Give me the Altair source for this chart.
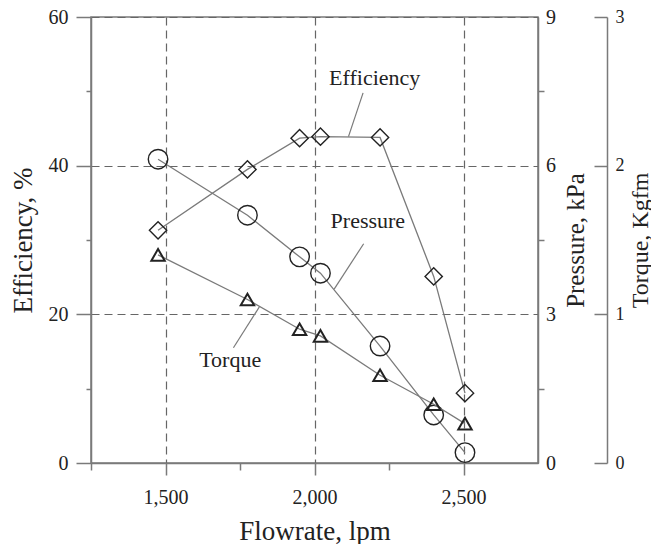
import altair as alt
import pandas as pd

# Measured operating points
flowrate = [1475, 1775, 1950, 2020, 2220, 2400, 2505]          # lpm
efficiency = [31.3, 39.5, 43.7, 43.9, 43.8, 25.1, 9.4]         # %
pressure = [6.13, 5.00, 4.16, 3.83, 2.36, 0.97, 0.21]          # kPa
torque = [1.40, 1.10, 0.90, 0.855, 0.59, 0.395, 0.265]         # Kgfm

# Tick values (unlabelled minor ticks in between)
x_ticks = [1250, 1500, 1750, 2000, 2250, 2500]
eff_ticks = [0, 10, 20, 30, 40, 50, 60]
pres_ticks = [0, 1.5, 3, 4.5, 6, 7.5, 9]
torq_ticks = [0, 0.5, 1, 1.5, 2, 2.5, 3]

# Series name labels with leader lines (flowrate / efficiency units)
label_text = ["Efficiency", "Pressure", "Torque"]
label_x = [2202, 2179, 1717]
label_y = [51.8, 32.5, 13.9]
leader_x0 = [2163, 2165, 1728]
leader_y0 = [49.8, 29.5, 15.5]
leader_x1 = [2114, 2066, 1815]
leader_y1 = [43.9, 23.4, 21.0]

FONT = "Liberation Serif, serif"
LINE = "#7a7a7a"
INK = "#222222"
GRID = "#666666"

# Shared axis styling
AX = dict(labelFont=FONT, titleFont=FONT, labelColor=INK, titleColor=INK,
          titleFontWeight="normal", domainColor=LINE, domainWidth=1.5,
          tickColor=LINE, tickWidth=1.5)

df = pd.DataFrame({"flow": flowrate, "eff": efficiency, "pres": pressure, "torq": torque})
ann = pd.DataFrame({"text": label_text, "lx": label_x, "ly": label_y,
                    "x0": leader_x0, "y0": leader_y0, "x1": leader_x1, "y1": leader_y1})

x_scale = alt.Scale(domain=[1250, 2750], nice=False, zero=False)
x_axis = alt.Axis(
    orient="bottom", values=x_ticks, format=",d",
    labelExpr="datum.value % 500 === 0 ? datum.label : ''",
    tickSize={"condition": {"test": "datum.value % 500 === 0", "value": 12}, "value": 7},
    labelBaseline="alphabetic", labelPadding=28, labelFontSize=20,
    grid=True, gridDash=[8, 5], gridColor=GRID, gridWidth=1.2,
    gridOpacity={"condition": {"test": "datum.value % 500 === 0", "value": 1}, "value": 0},
    title="Flowrate, lpm", titleFontSize=27, titleBaseline="alphabetic", titleY=76,
    **AX,
)

eff_scale = alt.Scale(domain=[0, 60], nice=False, zero=True)
eff_axis = alt.Axis(
    orient="left", values=eff_ticks,
    labelExpr="datum.value % 20 === 0 ? datum.label : ''",
    tickSize={"condition": {"test": "datum.value % 20 === 0", "value": 15}, "value": 5},
    labelPadding=8, labelFontSize=20,
    grid=True, gridDash=[8, 5], gridColor=GRID, gridWidth=1.2,
    gridOpacity={"condition": {"test": "datum.value % 20 === 0", "value": 1}, "value": 0},
    title="Efficiency, %", titleFontSize=27, titleAngle=270, titleBaseline="alphabetic",
    titleX=-60, titleY=223,
    **AX,
)

pres_scale = alt.Scale(domain=[0, 9], nice=False, zero=True)
pres_axis = alt.Axis(
    orient="right", values=pres_ticks, grid=False, format="d",
    labelExpr="datum.value % 3 === 0 ? datum.label : ''",
    tickSize={"condition": {"test": "datum.value % 3 === 0", "value": 0}, "value": 6},
    labelPadding=7.5, labelFontSize=20,
    title="Pressure, kPa", titleFontSize=25, titleAngle=270, titleBaseline="alphabetic",
    titleX=45.5, titleY=223,
    **AX,
)

torq_scale = alt.Scale(domain=[0, 3], nice=False, zero=True)
torq_axis = alt.Axis(
    orient="left", offset=-516, values=torq_ticks, grid=False, format="d",
    labelExpr="datum.value % 1 === 0 ? datum.label : ''",
    tickSize=13, labelAlign="left", labelPadding=-21, labelFontSize=18,
    title="Torque, Kgfm", titleFontSize=24, titleAngle=270, titleBaseline="alphabetic",
    titleX=40, titleY=223,
    **AX,
)


def X(field):
    return alt.X(f"{field}:Q", scale=x_scale, axis=x_axis)


base = alt.Chart(df)


def series(field, scale, axis, shape, size, stroke_w):
    y = alt.Y(f"{field}:Q", scale=scale, axis=axis)
    line = base.mark_line(color=LINE, strokeWidth=1.3).encode(x=X("flow"), y=y)
    pts = base.mark_point(shape=shape, size=size, filled=False, color=INK,
                          strokeWidth=stroke_w, opacity=1).encode(x=X("flow"), y=y)
    return alt.layer(line, pts)


eff_series = series("eff", eff_scale, eff_axis, "diamond", 300, 1.4)
pres_group = series("pres", pres_scale, pres_axis, "circle", 380, 1.4)
torq_group = series("torq", torq_scale, torq_axis, "triangle-up", 180, 2.0)

leaders = alt.Chart(ann).mark_rule(color=LINE, strokeWidth=1.2).encode(
    x=X("x0"),
    x2="x1:Q",
    y=alt.Y("y0:Q", scale=eff_scale, axis=eff_axis),
    y2="y1:Q",
)
labels = alt.Chart(ann).mark_text(font=FONT, fontSize=22, color=INK,
                                   align="center", baseline="middle").encode(
    x=X("lx"),
    y=alt.Y("ly:Q", scale=eff_scale, axis=eff_axis),
    text="text:N",
)

eff_group = alt.layer(eff_series, leaders, labels)

chart = (
    alt.layer(eff_group, pres_group, torq_group)
    .resolve_scale(y="independent")
    .resolve_axis(y="independent")
    .properties(
        width=447, height=446,
        autosize=alt.AutoSizeParams(type="none"),
        padding={"left": 91, "top": 17, "right": 113, "bottom": 81},
        background="white",
    )
    .configure_view(stroke=LINE, strokeWidth=1.5)
)

chart.save("out.html", embed_options={"renderer": "svg", "actions": False})
